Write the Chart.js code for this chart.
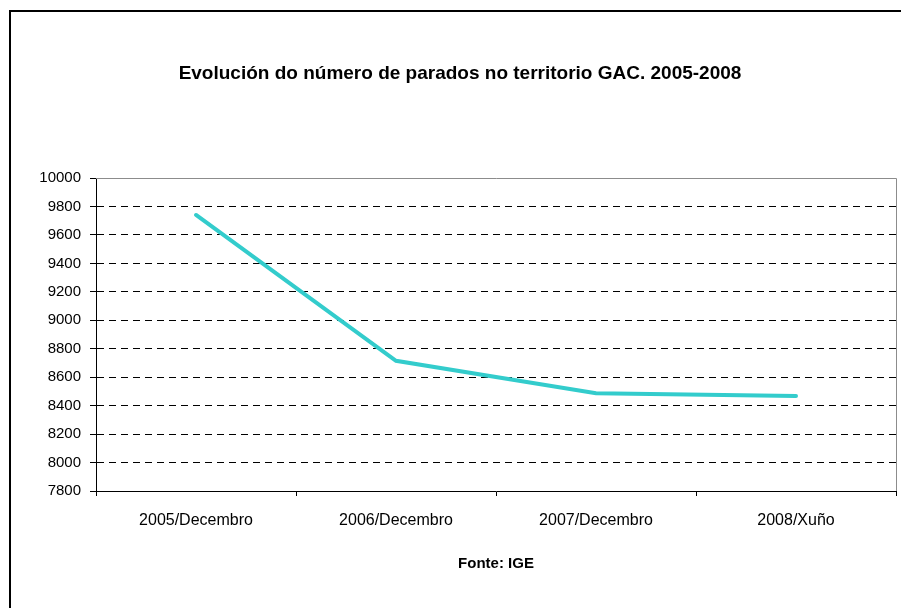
<!DOCTYPE html>
<html>
<head>
<meta charset="utf-8">
<script src="https://cdn.jsdelivr.net/npm/chart.js@4/dist/chart.umd.min.js"></script>
<style>
  html, body { margin: 0; padding: 0; background: #fff; }
  #wrap { width: 901px; height: 608px; }
</style>
</head>
<body>
<div id="wrap"><canvas id="c" width="901" height="608"></canvas></div>
<script>
const titleText = "Evolución do número de parados no territorio GAC. 2005-2008";
const sourceText = "Fonte: IGE";
const categories = ["2005/Decembro", "2006/Decembro", "2007/Decembro", "2008/Xuño"];
const parados = [9740, 8715, 8487, 8468];
const yMin = 7800;
const yMax = 10000;
const yStep = 200;

const frame = {
  id: 'frame',
  beforeDraw(chart) {
    const ctx = chart.ctx;
    ctx.save();
    ctx.fillStyle = '#fff';
    ctx.fillRect(0, 0, chart.width, chart.height);
    ctx.strokeStyle = '#000';
    ctx.lineWidth = 2;
    ctx.strokeRect(10, 11, 2000, 2000);
    ctx.fillStyle = '#000';
    ctx.font = 'bold 19px "Liberation Sans"';
    ctx.textAlign = 'center';
    ctx.textBaseline = 'middle';
    ctx.fillText(titleText, 460, 74);
    ctx.restore();
  },
  afterDatasetsDraw(chart) {
    const {ctx, chartArea: a} = chart;
    ctx.save();
    ctx.strokeStyle = '#8c8c8c';
    ctx.lineWidth = 1;
    ctx.beginPath();
    ctx.moveTo(a.left, a.top + 0.5);
    ctx.lineTo(a.right + 0.5, a.top + 0.5);
    ctx.lineTo(a.right + 0.5, a.bottom);
    ctx.stroke();
    ctx.restore();
  }
};

new Chart(document.getElementById('c'), {
  type: 'line',
  data: {
    labels: categories,
    datasets: [{
      data: parados,
      borderColor: '#33CCCC',
      borderWidth: 4,
      pointRadius: 0,
      tension: 0,
      borderCapStyle: 'round',
      fill: false
    }]
  },
  options: {
    responsive: false,
    animation: false,
    devicePixelRatio: 1,
    layout: { padding: { left: 0, right: 5, top: 178, bottom: 0 } },
    plugins: {
      legend: { display: false },
      tooltip: { enabled: false },
      title: { display: false }
    },
    scales: {
      x: {
        type: 'category',
        offset: true,
        afterFit(scale) { scale.height = 117; },
        grid: {
          offset: true,
          display: true,
          drawOnChartArea: false,
          drawTicks: true,
          tickLength: 5,
          color: '#000',
          tickColor: '#000'
        },
        border: { display: true, color: '#000', width: 1 },
        ticks: {
          color: '#000',
          padding: 15,
          maxRotation: 0,
          autoSkip: false,
          font: { family: 'Liberation Sans', size: 16 }
        },
        title: {
          display: true,
          text: sourceText,
          color: '#000',
          font: { family: 'Liberation Sans', size: 15, weight: 'bold' },
          padding: { top: 0, bottom: 35 }
        }
      },
      y: {
        min: yMin,
        max: yMax,
        afterFit(scale) { scale.width = 96; },
        ticks: {
          stepSize: yStep,
          color: '#000',
          padding: 9,
          font: { family: 'Liberation Sans', size: 15 },
          callback: (v) => String(v)
        },
        grid: {
          drawTicks: true,
          tickLength: 6,
          color: (ctx) => (ctx.tick && (ctx.tick.value === yMax || ctx.tick.value === yMin)) ? 'rgba(0,0,0,0)' : '#000',
          tickColor: '#000',
          lineWidth: 1,
          tickBorderDash: [6, 0]
        },
        border: { display: true, color: '#000', width: 1, dash: [7, 5] }
      }
    }
  },
  plugins: [frame]
});
</script>
</body>
</html>
